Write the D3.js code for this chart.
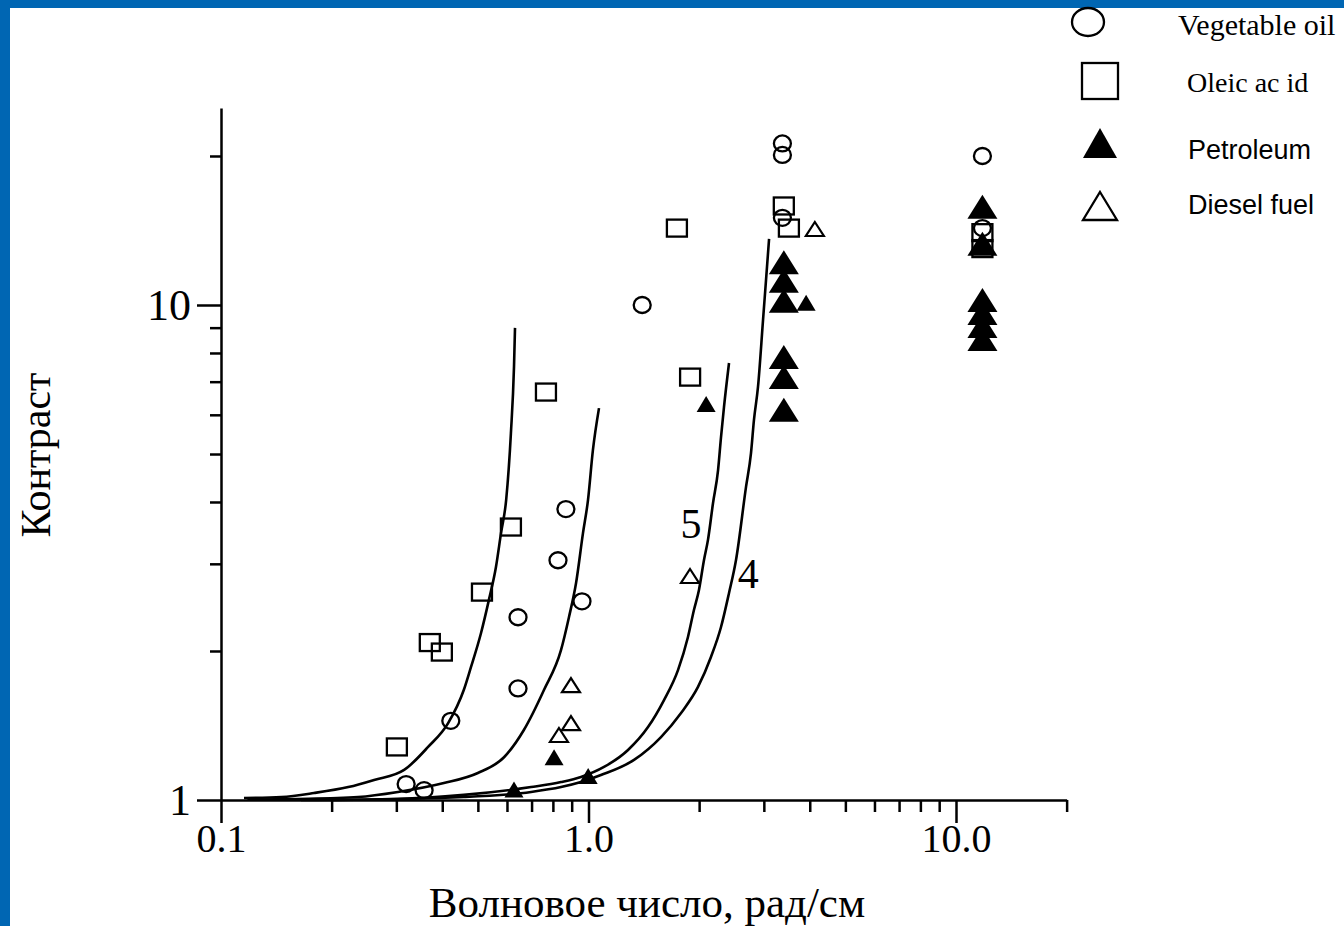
<!DOCTYPE html>
<html>
<head>
<meta charset="utf-8">
<script src="https://cdn.jsdelivr.net/npm/d3@7/dist/d3.min.js"></script>
<style>
  body { margin: 0; background: #0066b3; }
  svg { display: block; }
</style>
</head>
<body>
<svg id="chart" width="1344" height="926"></svg>
<script>
// --- data: [wave number rad/cm, contrast] ---
var vegetableOil = [
  [0.319, 1.077], [0.357, 1.047], [0.422, 1.445], [0.643, 1.68], [0.643, 2.34],
  [0.826, 3.05], [0.868, 3.87], [0.96, 2.52], [1.40, 10.0],
  [3.37, 21.2], [3.37, 20.1], [3.37, 15.0], [11.8, 20.0], [11.8, 14.3]
];
var oleicAcid = [
  [0.301, 1.28], [0.370, 2.08], [0.399, 1.99], [0.513, 2.63], [0.615, 3.56],
  [0.766, 6.67], [1.74, 14.3], [1.89, 7.15], [3.40, 15.85], [3.51, 14.3],
  [11.8, 14.0], [11.8, 13.0]
];
var petroleumSmall = [
  [0.627, 1.05], [0.806, 1.22], [0.998, 1.118], [2.09, 6.31], [3.91, 10.1]
];
var petroleumLarge = [
  [3.40, 12.2], [3.40, 11.2], [3.40, 10.2], [3.40, 7.85], [3.40, 7.15], [3.40, 6.14],
  [11.8, 15.8], [11.8, 13.3], [11.8, 10.23], [11.8, 9.63], [11.8, 9.07], [11.8, 8.54]
];
var dieselFuel = [
  [0.831, 1.353], [0.896, 1.43], [0.896, 1.707], [1.889, 2.835], [4.13, 14.24]
];

// calculated curves (traced)
var curve1 = [
  [0.1155, 1.009], [0.146, 1.014], [0.179, 1.033], [0.222, 1.062], [0.261, 1.098],
  [0.315, 1.15], [0.366, 1.28], [0.415, 1.43], [0.458, 1.67], [0.479, 1.857],
  [0.510, 2.175], [0.536, 2.54], [0.560, 2.956], [0.578, 3.46], [0.597, 4.04],
  [0.615, 5.51], [0.627, 7.5], [0.631, 8.99]
];
var curve2 = [
  [0.118, 1.002], [0.162, 1.005], [0.236, 1.014], [0.303, 1.038], [0.404, 1.082],
  [0.500, 1.134], [0.589, 1.22], [0.667, 1.385], [0.757, 1.67], [0.842, 2.01],
  [0.885, 2.343], [0.925, 2.743], [0.966, 3.46], [0.997, 4.04], [1.028, 5.09],
  [1.068, 6.19]
];
var curve5 = [
  [0.165, 1.0], [0.303, 1.005], [0.458, 1.024], [0.698, 1.062], [0.842, 1.087],
  [0.954, 1.113], [1.102, 1.166], [1.281, 1.262], [1.452, 1.404], [1.605, 1.592],
  [1.752, 1.83], [1.865, 2.135], [1.936, 2.42], [1.998, 2.657], [2.062, 3.054],
  [2.114, 3.353], [2.182, 3.98], [2.252, 4.64], [2.294, 5.41], [2.337, 6.22],
  [2.412, 7.635]
];
var curve4 = [
  [0.199, 1.0], [0.458, 1.014], [0.698, 1.038], [0.842, 1.062], [0.954, 1.087],
  [1.081, 1.123], [1.330, 1.205], [1.575, 1.34], [1.786, 1.499], [1.986, 1.692],
  [2.154, 1.945], [2.294, 2.236], [2.412, 2.62], [2.52, 3.054], [2.683, 4.29],
  [2.768, 5.02], [2.82, 5.86], [2.892, 6.83], [2.985, 9.33], [3.06, 11.94],
  [3.10, 13.6]
];
var curves = [curve1, curve2, curve5, curve4];
var curveLabels = [["5", 1.90, 3.63], ["4", 2.72, 2.875]];

var xMajor = [0.1, 1, 10];
var xMajorLabels = ["0.1", "1.0", "10.0"];
var xMinor = [0.2, 0.3, 0.4, 0.5, 0.6, 0.7, 0.8, 0.9, 2, 3, 4, 5, 6, 7, 8, 9, 20];
var yMajor = [1, 10];
var yMajorLabels = ["1", "10"];
var yMinor = [2, 3, 4, 5, 6, 7, 8, 9, 20];

var legendNames = ["Vegetable oil", "Oleic ac id", "Petroleum", "Diesel fuel"];

// --- drawing ---
var svg = d3.select("#chart");
var serif = "'Liberation Serif', 'Times New Roman', serif";
var sans = "'Liberation Sans', Arial, sans-serif";

svg.append("rect").attr("width", 1344).attr("height", 926).attr("fill", "#0066b3");
svg.append("rect").attr("x", 10).attr("y", 8).attr("width", 1334).attr("height", 918).attr("fill", "#fff");

var x = d3.scaleLog().domain([0.1, 20]).range([221, 221 + 367.5 * Math.log10(200)]);
var y = d3.scaleLog().domain([1, 25]).range([800, 800 - 495 * Math.log10(25)]);

function styleAxis(g) {
  g.selectAll("path, line").attr("stroke", "#000").attr("stroke-width", 2.5);
}

// x axis
var gx = svg.append("g").attr("transform", "translate(0,800)");
gx.call(d3.axisBottom(x).tickValues(xMinor).tickSize(12).tickSizeOuter(0).tickFormat(""));
gx.append("g").call(d3.axisBottom(x).tickValues(xMajor).tickSize(23).tickSizeOuter(0)
  .tickPadding(1).tickFormat(function(d, i) { return xMajorLabels[i]; }));
gx.selectAll("g g path.domain").remove();
styleAxis(gx);
gx.selectAll("text").attr("font-family", serif).attr("font-size", 40).attr("fill", "#000");

// y axis
var gy = svg.append("g").attr("transform", "translate(221,0)");
gy.call(d3.axisLeft(y).tickValues(yMinor).tickSize(11).tickSizeOuter(0).tickFormat(""));
gy.append("g").call(d3.axisLeft(y).tickValues(yMajor).tickSize(24).tickSizeOuter(0)
  .tickPadding(6).tickFormat(function(d, i) { return yMajorLabels[i]; }));
gy.selectAll("g g path.domain").remove();
styleAxis(gy);
gy.selectAll("text").attr("font-family", serif).attr("font-size", 44).attr("fill", "#000");

// axis titles
svg.append("text").attr("x", 647).attr("y", 917).attr("text-anchor", "middle")
  .attr("font-family", serif).attr("font-size", 43).text("Волновое число, рад/см");
svg.append("text").attr("transform", "translate(50,455) rotate(-90)").attr("text-anchor", "middle")
  .attr("font-family", serif).attr("font-size", 42).text("Контраст");

// curves
var line = d3.line().x(function(d) { return x(d[0]); }).y(function(d) { return y(d[1]); })
  .curve(d3.curveMonotoneX);
svg.append("g").selectAll("path").data(curves).join("path")
  .attr("d", line).attr("fill", "none").attr("stroke", "#000").attr("stroke-width", 2.6);

svg.append("g").selectAll("text").data(curveLabels).join("text")
  .attr("x", function(d) { return x(d[1]); }).attr("y", function(d) { return y(d[2]); })
  .attr("text-anchor", "middle").attr("dy", "0.35em")
  .attr("font-family", serif).attr("font-size", 42).text(function(d) { return d[0]; });

// markers
function tri(w, h) {
  return "M0," + (-h / 2) + "L" + (w / 2) + "," + (h / 2) + "L" + (-w / 2) + "," + (h / 2) + "Z";
}
function pos(d) { return "translate(" + x(d[0]) + "," + y(d[1]) + ")"; }

var marks = svg.append("g");
marks.selectAll(".oil").data(vegetableOil).join("ellipse")
  .attr("transform", pos).attr("rx", 8.5).attr("ry", 8)
  .attr("fill", "none").attr("stroke", "#000").attr("stroke-width", 2.3);
marks.selectAll(".oleic").data(oleicAcid).join("rect")
  .attr("transform", pos).attr("x", -10).attr("y", -8.5).attr("width", 20).attr("height", 17)
  .attr("fill", "none").attr("stroke", "#000").attr("stroke-width", 2.3);
marks.selectAll(".petS").data(petroleumSmall).join("path")
  .attr("transform", pos).attr("d", tri(19, 16)).attr("fill", "#000");
marks.selectAll(".petL").data(petroleumLarge).join("path")
  .attr("transform", pos).attr("d", tri(30, 24)).attr("fill", "#000");
marks.selectAll(".dies").data(dieselFuel).join("path")
  .attr("transform", pos).attr("d", tri(18, 14))
  .attr("fill", "none").attr("stroke", "#000").attr("stroke-width", 2.2);

// legend
var lg = svg.append("g");
lg.append("ellipse").attr("cx", 1088).attr("cy", 22).attr("rx", 16).attr("ry", 14)
  .attr("fill", "none").attr("stroke", "#000").attr("stroke-width", 2.3);
lg.append("rect").attr("x", 1082).attr("y", 63).attr("width", 36).attr("height", 36)
  .attr("fill", "none").attr("stroke", "#000").attr("stroke-width", 2.3);
lg.append("path").attr("transform", "translate(1100,143)").attr("d", tri(34, 30)).attr("fill", "#000");
lg.append("path").attr("transform", "translate(1100,206)").attr("d", tri(34, 28))
  .attr("fill", "none").attr("stroke", "#000").attr("stroke-width", 2.3);

var legendPos = [[1178, 35, serif, 30], [1187, 92, serif, 28], [1188, 159, sans, 27], [1188, 214, sans, 27]];
lg.selectAll("text").data(legendNames).join("text")
  .attr("x", function(d, i) { return legendPos[i][0]; })
  .attr("y", function(d, i) { return legendPos[i][1]; })
  .attr("font-family", function(d, i) { return legendPos[i][2]; })
  .attr("font-size", function(d, i) { return legendPos[i][3]; })
  .text(function(d) { return d; });
</script>
</body>
</html>
